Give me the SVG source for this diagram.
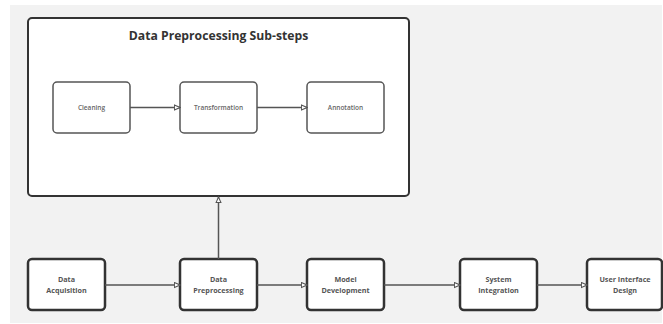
<svg xmlns="http://www.w3.org/2000/svg" width="663" height="324" viewBox="0 0 663 324">
<style>
.bg{fill:#f2f2f2}
.container{fill:#fff;stroke:#333;stroke-width:2}
.inner{fill:#fff;stroke:#555;stroke-width:1.5}
.main{fill:#fff;stroke:#333;stroke-width:2.5}
.title{font-family:"Open Sans",sans-serif;font-weight:700;font-size:12.2px;fill:#333;text-anchor:middle}
.small{font-family:"Open Sans",sans-serif;font-weight:600;font-size:6.5px;fill:#666;text-anchor:middle}
.label{font-family:"Open Sans",sans-serif;font-weight:700;font-size:7.2px;fill:#555;text-anchor:middle}
.conn{stroke:#555;stroke-width:1.5;fill:none;marker-end:url(#arr)}
</style>
<defs>
<marker id="arr" viewBox="0 0 10 10" refX="9" refY="5" markerWidth="7" markerHeight="7" orient="auto" markerUnits="userSpaceOnUse">
<path d="M1,1.5 L9,5 L1,8.5 Z" fill="#fff" stroke="#555" stroke-width="1.5"/>
</marker>
</defs>
<rect class="bg" x="10" y="5" width="652" height="318"/>
<g id="sub-steps">
<rect class="container" x="28" y="18" width="381" height="178" rx="4"/>
<text class="title" x="218.5" y="40">Data Preprocessing Sub-steps</text>
</g>
<g id="cleaning">
<rect class="inner" x="53" y="82" width="77" height="51" rx="4"/>
<text class="small" x="91.5" y="109.5">Cleaning</text>
</g>
<g id="transformation">
<rect class="inner" x="180" y="82" width="77" height="51" rx="4"/>
<text class="small" x="218.5" y="109.5">Transformation</text>
</g>
<g id="annotation">
<rect class="inner" x="307" y="82" width="77" height="51" rx="4"/>
<text class="small" x="345.5" y="109.5">Annotation</text>
</g>
<g id="data-acquisition">
<rect class="main" x="28" y="259" width="77" height="51" rx="4"/>
<text class="label" x="66.5" y="282">Data</text>
<text class="label" x="66.5" y="293">Acquisition</text>
</g>
<g id="data-preprocessing">
<rect class="main" x="180" y="259" width="77" height="51" rx="4"/>
<text class="label" x="218.5" y="282">Data</text>
<text class="label" x="218.5" y="293">Preprocessing</text>
</g>
<g id="model-development">
<rect class="main" x="307" y="259" width="77" height="51" rx="4"/>
<text class="label" x="345.5" y="282">Model</text>
<text class="label" x="345.5" y="293">Development</text>
</g>
<g id="system-integration">
<rect class="main" x="460" y="259" width="77" height="51" rx="4"/>
<text class="label" x="498.5" y="282">System</text>
<text class="label" x="498.5" y="293">Integration</text>
</g>
<g id="ui-design">
<rect class="main" x="587" y="259" width="75" height="51" rx="4"/>
<text class="label" x="625" y="282">User Interface</text>
<text class="label" x="625" y="293">Design</text>
</g>
<g id="connectors">
<line class="conn" x1="130" y1="107.5" x2="180" y2="107.5"/>
<line class="conn" x1="257" y1="107.5" x2="307" y2="107.5"/>
<line class="conn" x1="105" y1="285" x2="180" y2="285"/>
<line class="conn" x1="257" y1="285" x2="307" y2="285"/>
<line class="conn" x1="384" y1="285" x2="460" y2="285"/>
<line class="conn" x1="537" y1="285" x2="587" y2="285"/>
<line class="conn" x1="218.5" y1="259" x2="218.5" y2="197"/>
</g>
</svg>
